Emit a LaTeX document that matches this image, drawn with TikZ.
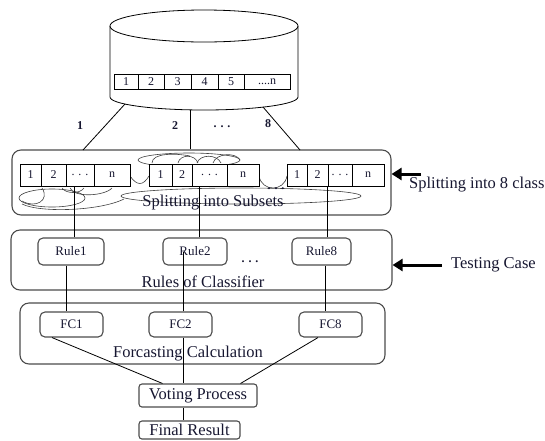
\documentclass[tikz,border=0pt]{standalone}
\usepackage{fontspec}
\setmainfont{Liberation Serif}
\usetikzlibrary{arrows.meta, positioning}
\definecolor{ink}{RGB}{22,22,48}
\tikzset{
group box/.style = { rectangle, draw = black!70, line width = 1.1pt, rounded corners = 9pt, inner sep = 0pt },
rule box/.style = { rectangle, draw = black!70, text = ink, line width = 1.1pt, rounded corners = 5pt, inner sep = 0pt, font = \fontsize{13}{15}\selectfont },
cell/.style = { rectangle, draw = black, fill = white, text = ink, line width = 0.8pt, inner sep = 0pt, font = \fontsize{12}{14}\selectfont },
caption/.style = { inner sep = 0pt, text = ink, font = \fontsize{16.5}{18}\selectfont },
link/.style = { draw = black, line width = 0.8pt },
loop line/.style = { draw = black!75, line width = 0.6pt },
side arrow/.style = { draw = black, line width = 3pt, -{Triangle[length = 10pt, width = 12pt]} },
}

\begin{document}
\begin{tikzpicture}[x = 1pt, y = -1pt]
      \useasboundingbox (0,0) rectangle (545,440);
      % data store
      \draw[link] (204,26) ellipse [x radius = 94pt, y radius = 16pt];
      \draw[link] (110,26) -- (110,97) arc [start angle = 180, end angle = 360, x radius = 94pt, y radius = 13pt] -- (298,26);
      \begin{scope}[every node/.style = {cell, minimum height = 15pt}]
        \node[minimum width = 24pt] (d1) at (126,81.5) {1};
        \node[minimum width = 26pt] (d2) at (151,81.5) {2};
        \node[minimum width = 27pt] (d3) at (177.5,81.5) {3};
        \node[minimum width = 27pt] (d4) at (204.5,81.5) {4};
        \node[minimum width = 26pt] (d5) at (231,81.5) {5};
        \node[minimum width = 46pt] (dn) at (267,81.5) {....n};
      \end{scope}
      \coordinate (db1) at (125,104);
      \coordinate (db2) at (190,110);
      \coordinate (db8) at (263,107);
      \coordinate (in1) at (83,150);
      \coordinate (in8) at (300,150);
      \begin{scope}[every node/.style = {inner sep = 0pt, text = ink, font = \bfseries\fontsize{12}{14}\selectfont}]
        \node (n1) at (80,126) {1};
        \node (n2) at (175,126) {2};
        \node (nd) at (222,127) {. . .};
        \node (n8) at (268,124) {8};
      \end{scope}

      % splitting into subsets
      \node[group box, minimum width = 379pt, minimum height = 65pt] (split) at (201.5,182.5) {};
      \path[link] (db1) edge (in1);
      \path[link] (db2) edge (db2 |- split.north);
      \path[link] (db8) edge (in8);
      \begin{scope}[every path/.style = {loop line}]
        \draw (189,160) ellipse [x radius = 51pt, y radius = 7pt];
        \draw (152,163) .. controls (152,153) and (175,153) .. (190,156);
        \draw (178,163) .. controls (180,154) and (195,154) .. (198,163);
        \draw (197,163) .. controls (200,154) and (217,154) .. (221,163);
        \draw (213,163) .. controls (216,153) and (236,152) .. (240,160);
        \draw (52,198) ellipse [x radius = 33pt, y radius = 9pt];
        \draw (42,188) .. controls (50,200) and (36,209) .. (22,201);
        \draw (22,204) .. controls (40,213) and (100,211) .. (124,199);
        \draw (70,188) .. controls (74,198) and (105,196) .. (112,188);
        \draw (62,188) .. controls (66,194) and (80,194) .. (84,188);
        \draw (241,196) ellipse [x radius = 120pt, y radius = 8pt];
        \draw (130,176) .. controls (137,186) and (143,186) .. (149,176);
        \draw (259,176) .. controls (262,192) and (284,192) .. (287,176);
      \end{scope}
      \begin{scope}[every node/.style = {cell, minimum height = 22pt}]
        \node[minimum width = 21pt] (l1) at (30.5,175) {1};
        \node[minimum width = 25pt] (l2) at (53.5,175) {2};
        \node[minimum width = 28pt] (l3) at (80,175) {. . .};
        \node[minimum width = 36pt] (ln) at (112,175) {n};
        \node[minimum width = 23pt] (m1) at (160.5,175) {1};
        \node[minimum width = 20pt] (m2) at (182,175) {2};
        \node[minimum width = 35pt] (m3) at (209.5,175) {. . .};
        \node[minimum width = 32pt] (mn) at (243,175) {n};
        \node[minimum width = 20pt] (r1) at (297,175) {1};
        \node[minimum width = 21pt] (r2) at (317.5,175) {2};
        \node[minimum width = 24pt] (r3) at (340,175) {. . .};
        \node[minimum width = 32pt] (rn) at (368,175) {n};
      \end{scope}
      \node[inner sep = 0pt, text = ink, font = \bfseries\fontsize{12}{14}\selectfont] (sd) at (276,189) {. . .};
      \node[caption] (split label) at (213,203) {Splitting into Subsets};

      % rules of classifier
      \node[group box, minimum width = 381pt, minimum height = 60pt] (rules) at (201.5,260) {};
      \node[rule box, minimum width = 66pt, minimum height = 27pt] (rule1) at (71,251.5) {Rule1};
      \node[rule box, minimum width = 64pt, minimum height = 27pt] (rule2) at (195,251.5) {Rule2};
      \node[rule box, minimum width = 59pt, minimum height = 27pt] (rule8) at (321.5,251.5) {Rule8};
      \node[inner sep = 0pt, text = ink, font = \bfseries\fontsize{12}{14}\selectfont] (rd) at (250,262) {. . .};
      \node[caption] (rules label) at (203,282) {Rules of Classifier};
      \path[link] ([xshift = 3pt]rule1.north) edge ([xshift = 3pt]rule1.north |- l3.south);
      \path[link] ([xshift = 4pt]rule2.north) edge ([xshift = 4pt]rule2.north |- m3.south);
      \path[link] (rule8.north -| r3.west) edge (r3.south west);

      % forecasting
      \node[group box, minimum width = 365pt, minimum height = 61pt] (fc) at (202.5,333.5) {};
      \node[rule box, minimum width = 63pt, minimum height = 25pt] (fc1) at (71.5,324.5) {FC1};
      \node[rule box, minimum width = 63pt, minimum height = 25pt] (fc2) at (180.5,324.5) {FC2};
      \node[rule box, minimum width = 63pt, minimum height = 25pt] (fc8) at (330.5,324.5) {FC8};
      \node[caption] (fc label) at (188,354) {Forcasting Calculation};
      \path[link] ([xshift = -5pt]rule1.south) edge ([xshift = -5pt]rule1.south |- fc1.north);
      \path[link] ([xshift = 3pt]fc2.north) edge ([xshift = 3pt]fc2.north |- rule2.center);
      \path[link] ([xshift = -5pt]fc8.north |- rule8.south) edge ([xshift = -5pt]fc8.north);

      % voting
      \node[rule box, font = \fontsize{16.5}{18}\selectfont, rounded corners = 3pt, minimum width = 118pt, minimum height = 23pt] (vote) at (198,395.5) {Voting Process};
      \node[rule box, font = \fontsize{16.5}{18}\selectfont, rounded corners = 3pt, minimum width = 101pt, minimum height = 18pt] (final) at (189.5,430) {Final Result};
      \path[link] ([xshift = -19.5pt]fc1.south) edge ([xshift = 24pt]vote.north west);
      \path[link] ([xshift = 3pt]fc2.south) edge ([xshift = 3pt]fc2.south |- vote.north);
      \path[link] ([xshift = -12.5pt]fc8.south) edge ([xshift = -17pt]vote.north east);
      \path[link] ([xshift = -15pt]vote.south) edge ([xshift = -15pt]vote.south |- final.north);

      % side notes
      \coordinate (t1) at (421,174);
      \coordinate (t2) at (442,265);
      \draw[side arrow] (t1) -- (t1 -| split.east);
      \draw[side arrow] (t2) -- (t2 -| rules.east);
      \node[caption, anchor = west] (split note) at (409,185) {Splitting into 8 class};
      \node[caption, anchor = west] (test note) at (451,265) {Testing Case};
\end{tikzpicture}
\end{document}
